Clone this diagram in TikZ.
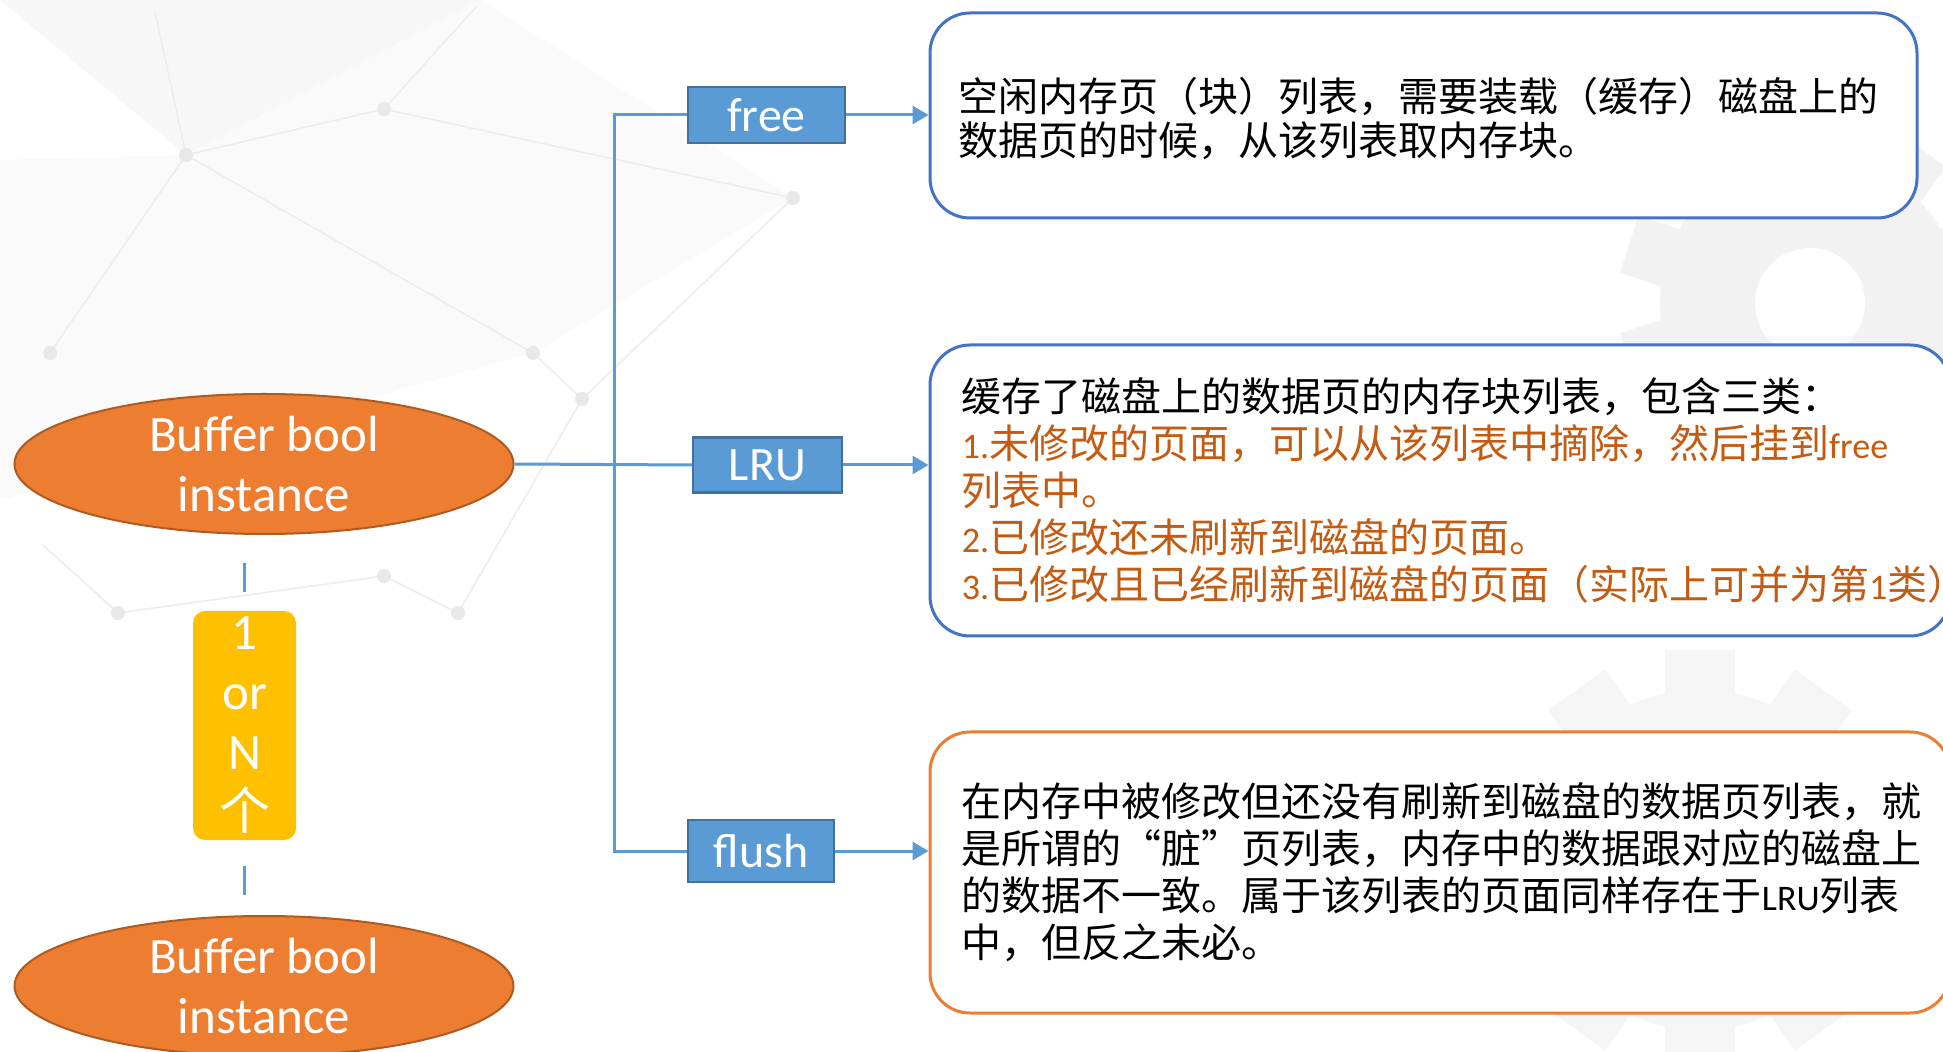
\documentclass[tikz,border=0pt]{standalone}
\usepackage{fontspec}
\setmainfont{Carlito}
\newfontfamily\cjk{Noto Sans CJK SC}
\newfontfamily\cjkn{Noto Sans CJK SC}
\usetikzlibrary{shapes.geometric,arrows.meta,calc}
\definecolor{lineblue}{HTML}{5B9BD5}
\definecolor{tagborder}{HTML}{41719C}
\definecolor{boxblue}{HTML}{4472C4}
\definecolor{accorange}{HTML}{ED7D31}
\definecolor{ellborder}{HTML}{AE5A21}
\definecolor{gold}{HTML}{FFC000}
\definecolor{txtorange}{HTML}{C55A11}
\newcommand{\lat}[1]{{\rmfamily\fontsize{18pt}{23.5pt}\selectfont #1}}
\begin{document}
\begin{tikzpicture}[x=0.5pt,y=-0.5pt,
  conn/.style={draw=lineblue,line width=1.5pt},
  arr/.style={conn,-{Triangle[length=8pt,width=9pt]}},
  tag/.style={draw=tagborder,fill=lineblue,line width=1.2pt,text=white,font=\fontsize{24pt}{28pt}\selectfont,inner sep=0pt},
  ell/.style={ellipse,draw=ellborder,fill=accorange,line width=1pt,minimum width=249.5pt,minimum height=70pt,inner sep=0pt,text=white,align=center,font=\fontsize{25.5pt}{30pt}\selectfont},
  numbox/.style={rectangle,rounded corners=6pt,fill=gold,inner sep=0pt,text=white,align=center,font=\fontsize{25.5pt}{30pt}\selectfont},
  descbox/.style={rectangle,rounded corners=20pt,fill=white,line width=1.5pt,inner sep=0pt},
  desctext/.style={anchor=west,align=left,inner sep=0pt,font=\cjk\fontsize{20pt}{23.5pt}\selectfont},
  bgline/.style={draw=black!7,line width=0.8pt},
  bgdot/.style={fill=black!9},
]
\useasboundingbox (0,0) rectangle (1943,1052);
\fill[white] (0,0) rectangle (1943,1052);
% faint background decoration
\fill[black!3] (0,0) -- (480,0) -- (186,155) -- cycle;
\fill[black!2] (0,160) -- (186,155) -- (533,353) -- (0,500) -- cycle;
\fill[black!2] (480,0) -- (793,198) -- (533,353) -- (186,155) -- cycle;
\draw[bgline] (155,12) -- (186,155) -- (384,109) -- (477,6);
\draw[bgline] (50,353) -- (186,155) -- (533,353) -- (582,399);
\draw[bgline] (384,109) -- (793,198) -- (582,399);
\draw[bgline] (43,545) -- (118,613) -- (384,576) -- (458,613) -- (582,399);
\foreach \p in {(186,155),(384,109),(533,353),(582,399),(50,353),(118,613),(384,576),(458,613),(793,198)}
  \fill[bgdot] \p circle[radius=7];
\fill[black!5] (1810,303) circle[radius=150];
\foreach \a in {0,36,...,324}
  \fill[black!5,rotate around={\a:(1810,303)}] (1780,113) rectangle (1840,163);
\fill[white] (1810,303) circle[radius=55];
\fill[black!4] (1700,860) circle[radius=170];
\foreach \a in {0,36,...,324}
  \fill[black!4,rotate around={\a:(1700,860)}] (1665,650) rectangle (1735,700);
\fill[white] (1700,860) circle[radius=65];

% main nodes
\node[ell] (e1) at (264,464) {Buffer bool\\instance};
\node[ell] (e2) at (264,986) {Buffer bool\\instance};
\node[numbox,minimum width=51.5pt,minimum height=114.5pt] (num) at (244.5,725.5) {1\\or\\N\\{\cjkn 个}};

\node[tag,minimum width=78.5pt,minimum height=28pt] (free) at (766.5,115) {free};
\node[tag,minimum width=74.5pt,minimum height=27.5pt] (lru) at (767.5,465) {LRU};
\node[tag,minimum width=73pt,minimum height=31pt] (flush) at (761,851) {flush};

\node[descbox,draw=boxblue,minimum width=493.5pt,minimum height=102.5pt] (d1) at (1423.5,115.5) {};
\node[descbox,draw=boxblue,minimum width=510pt,minimum height=145.5pt] (d2) at (1440,490.5) {};
\node[descbox,draw=accorange,minimum width=510pt,minimum height=140.5pt] (d3) at (1440,872.5) {};

\node[desctext,font=\cjk\fontsize{20pt}{22pt}\selectfont] (t1) at ($(d1.west)+(30,3)$)
  {空闲内存页（块）列表，需要装载（缓存）磁盘上的\\数据页的时候，从该列表取内存块。};
\node[desctext] (t2) at ($(d2.west)+(33,0)$)
  {缓存了磁盘上的数据页的内存块列表，包含三类：\\
   \textcolor{txtorange}{\lat{1.}未修改的页面，可以从该列表中摘除，然后挂到\lat{free}}\\
   \textcolor{txtorange}{列表中。}\\
   \textcolor{txtorange}{\lat{2.}已修改还未刷新到磁盘的页面。}\\
   \textcolor{txtorange}{\lat{3.}已修改且已经刷新到磁盘的页面（实际上可并为第\lat{1}类）}};
\node[desctext] (t3) at ($(d3.west)+(33,0)$)
  {在内存中被修改但还没有刷新到磁盘的数据页列表，就\\
   是所谓的“脏”页列表，内存中的数据跟对应的磁盘上\\
   的数据不一致。属于该列表的页面同样存在于\lat{LRU}列表\\
   中，但反之未必。};

% connectors
\coordinate (trunk) at (614,117);
\draw[conn] (e1.east) -- (lru.west);
\draw[conn] (free.west) -- (free.west -| trunk) -- (flush.west -| trunk) -- (flush.west);
\draw[arr] (free.east) -- (free.east -| d1.west);
\draw[arr] (lru.east) -- (lru.east -| d2.west);
\draw[arr] (flush.east) -- (flush.east -| d3.west);
\draw[conn,shorten <=14pt,shorten >=9.5pt] (num.north |- e1.south) -- (num.north);
\draw[conn,shorten <=13pt,shorten >=10pt] (num.south) -- (num.south |- e2.north);
\end{tikzpicture}
\end{document}
